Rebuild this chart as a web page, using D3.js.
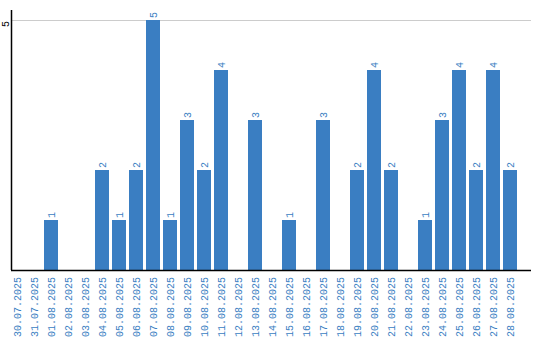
<!DOCTYPE html>
<html>
<head>
<meta charset="utf-8">
<script src="https://cdn.jsdelivr.net/npm/d3@7"></script>
<style>
  body { margin: 0; background: #fff; }
  text { font-family: "Liberation Mono", "DejaVu Sans Mono", monospace; font-size: 10px; }
</style>
</head>
<body>
<div id="chart"></div>
<script>
// Daily counts
var dates = ['30.07.2025', '31.07.2025', '01.08.2025', '02.08.2025', '03.08.2025',
    '04.08.2025', '05.08.2025', '06.08.2025', '07.08.2025', '08.08.2025',
    '09.08.2025', '10.08.2025', '11.08.2025', '12.08.2025', '13.08.2025',
    '14.08.2025', '15.08.2025', '16.08.2025', '17.08.2025', '18.08.2025',
    '19.08.2025', '20.08.2025', '21.08.2025', '22.08.2025', '23.08.2025',
    '24.08.2025', '25.08.2025', '26.08.2025', '27.08.2025', '28.08.2025'];
var counts = [0, 0, 1, 0, 0, 2, 1, 2, 5, 1, 3, 2, 4, 0, 3, 0, 1, 0, 3, 0,
    2, 4, 2, 0, 1, 3, 4, 2, 4, 2];
var yTicks = [5];

var width = 540;
var height = 340;
var barColor = '#3a7ec2';

var data = dates.map((d, i) => ({date: d, value: counts[i]}));

var svg = d3.select('#chart').append('svg')
    .attr('width', width)
    .attr('height', height);

var x = d3.scaleBand()
    .domain(dates)
    .range([8.5, 518.5])
    .paddingInner(3 / 17)
    .paddingOuter(3 / 34);

var y = d3.scaleLinear()
    .domain([0, 5.2])
    .range([270, 10]);

// gridlines
svg.append('g')
    .selectAll('line')
    .data(yTicks)
    .enter()
    .append('line')
    .attr('x1', 11)
    .attr('x2', 531)
    .attr('y1', d => Math.round(y(d)) + 0.5)
    .attr('y2', d => Math.round(y(d)) + 0.5)
    .attr('stroke', '#cccccc')
    .attr('stroke-width', 1);

// bars
svg.append('g')
    .selectAll('rect')
    .data(data)
    .enter()
    .append('rect')
    .attr('x', d => x(d.date))
    .attr('y', d => y(d.value))
    .attr('width', x.bandwidth())
    .attr('height', d => y(0) - y(d.value))
    .attr('fill', barColor);

// value labels above bars
svg.append('g')
    .selectAll('text')
    .data(data.filter(d => d.value > 0))
    .enter()
    .append('text')
    .attr('transform', d => 'translate(' + (x(d.date) + x.bandwidth() / 2) + ',' + (y(d.value) - 2) + ') rotate(-90)')
    .attr('dy', '0.35em')
    .attr('text-anchor', 'start')
    .attr('fill', barColor)
    .text(d => d.value);

// y axis
svg.append('line')
    .attr('x1', 11.5).attr('x2', 11.5)
    .attr('y1', 10).attr('y2', 270)
    .attr('stroke', '#000')
    .attr('stroke-width', 1.5);

svg.append('g')
    .selectAll('text')
    .data(yTicks)
    .enter()
    .append('text')
    .attr('transform', d => 'translate(5,' + (y(d) + 7) + ') rotate(-90)')
    .attr('dy', '0.35em')
    .attr('text-anchor', 'start')
    .attr('fill', '#000')
    .text(d => d);

// x axis
svg.append('line')
    .attr('x1', 11).attr('x2', 531)
    .attr('y1', 270.5).attr('y2', 270.5)
    .attr('stroke', '#000')
    .attr('stroke-width', 1.5);

svg.append('g')
    .selectAll('text')
    .data(dates)
    .enter()
    .append('text')
    .attr('transform', d => 'translate(' + (x(d) + x.bandwidth() / 2) + ',277) rotate(-90)')
    .attr('dy', '0.35em')
    .attr('text-anchor', 'end')
    .attr('fill', barColor)
    .text(d => d);
</script>
</body>
</html>
